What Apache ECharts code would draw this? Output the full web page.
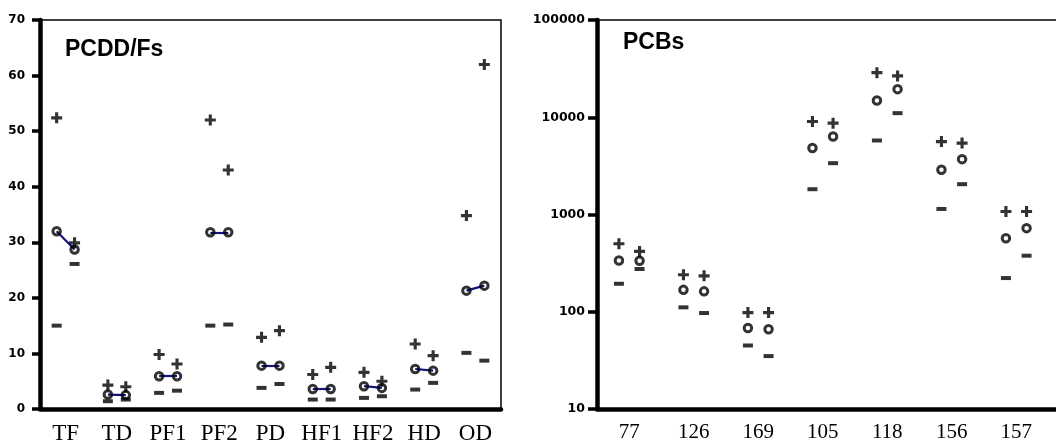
<!DOCTYPE html>
<html>
<head>
<meta charset="utf-8">
<script src="https://cdn.jsdelivr.net/npm/echarts@6/dist/echarts.min.js"></script>
<style>
    html, body { margin: 0; padding: 0; background: #fff; }
    #chart { width: 1056px; height: 445px; }
</style>
</head>
<body>
<div id="chart"></div>
<script>
    // PCDD/Fs panel (linear axis)
    var dfCategories = ['TF', 'TD', 'PF1', 'PF2', 'PD', 'HF1', 'HF2', 'HD', 'OD'];
    var dfMean1 = [32.0, 2.6, 5.9, 31.8, 7.8, 3.6, 4.1, 7.2, 21.3];
    var dfMean2 = [28.7, 2.5, 5.9, 31.8, 7.8, 3.6, 3.8, 6.9, 22.2];
    var dfUpper1 = [52.4, 4.3, 9.8, 52.0, 12.9, 6.2, 6.6, 11.7, 34.8];
    var dfUpper2 = [29.9, 4.0, 8.1, 43.0, 14.1, 7.5, 5.0, 9.6, 62.0];
    var dfLower1 = [15.0, 1.4, 2.9, 15.0, 3.8, 1.7, 2.0, 3.5, 10.1];
    var dfLower2 = [26.1, 1.7, 3.3, 15.2, 4.5, 1.7, 2.3, 4.7, 8.7];
    var dfTicks = [0, 10, 20, 30, 40, 50, 60, 70];

    // PCBs panel (log axis)
    var pcbCategories = ['77', '126', '169', '105', '118', '156', '157'];
    var pcbMean1 = [337, 168, 68, 4820, 14860, 2880, 571];
    var pcbMean2 = [335, 162, 66, 6340, 19450, 3710, 724];
    var pcbUpper1 = [500, 240, 98, 9040, 28760, 5620, 1074];
    var pcbUpper2 = [417, 234, 98, 8690, 26600, 5420, 1074];
    var pcbLower1 = [194, 111, 45, 1820, 5770, 1140, 222];
    var pcbLower2 = [275, 97, 35, 3370, 11020, 2050, 377];
    var pcbTicks = [10, 100, 1000, 10000, 100000];

    var PLUS = 'path://M4,0h3.2v4h4v3.2h-4v4h-3.2v-4h-4v-3.2h4z';
    var dfShift = 0.175;
    var pcbShift = 0.16;

    function pts(values, shift) {
        return values.map(function (v, i) {
            return [i + 0.5 + shift, v];
        });
    }

    function markerSeries(xIdx, yIdx, mean1, mean2, upper1, upper2, lower1, lower2, d) {
        var plus = {
            type: 'scatter', xAxisIndex: xIdx, yAxisIndex: yIdx,
            symbol: PLUS, symbolSize: 11, z: 4,
            itemStyle: { color: '#000' }
        };
        var minus = {
            type: 'scatter', xAxisIndex: xIdx, yAxisIndex: yIdx,
            symbol: 'rect', symbolSize: [10, 4], z: 4,
            itemStyle: { color: '#000' }
        };
        var circ = {
            type: 'scatter', xAxisIndex: xIdx, yAxisIndex: yIdx,
            symbol: 'circle', symbolSize: 7.5, z: 5,
            itemStyle: { color: 'rgba(0,0,0,0)', borderColor: '#000', borderWidth: 3 }
        };
        return [
            Object.assign({}, plus, { data: pts(upper1, -d) }),
            Object.assign({}, plus, { data: pts(upper2, d) }),
            Object.assign({}, minus, { data: pts(lower1, -d) }),
            Object.assign({}, minus, { data: pts(lower2, d) }),
            Object.assign({}, circ, { data: pts(mean1, -d) }),
            Object.assign({}, circ, { data: pts(mean2, d) })
        ];
    }

    var myChart = echarts.init(document.getElementById('chart'));

    var catAxis = function (gridIndex, data, fontSize) {
        return {
            gridIndex: gridIndex,
            type: 'category',
            data: data,
            boundaryGap: true,
            axisLine: { lineStyle: { color: '#000', width: 4.5 } },
            axisTick: { show: false },
            axisLabel: {
                color: '#000', fontFamily: 'Liberation Serif', fontSize: fontSize,
                margin: 13, interval: 0
            },
            splitLine: { show: false }
        };
    };

    var series = [];

    // blue connecting segments between the two means of each PCDD/F congener
    series.push({
        type: 'lines',
        coordinateSystem: 'cartesian2d',
        xAxisIndex: 1,
        yAxisIndex: 0,
        z: 3,
        lineStyle: { color: '#14147f', width: 2.2, opacity: 1 },
        data: dfCategories.map(function (c, i) {
            return { coords: [[i + 0.5 - dfShift, dfMean1[i]], [i + 0.5 + dfShift, dfMean2[i]]] };
        })
    });

    series = series.concat(markerSeries(1, 0, dfMean1, dfMean2, dfUpper1, dfUpper2, dfLower1, dfLower2, dfShift));
    series = series.concat(markerSeries(3, 1, pcbMean1, pcbMean2, pcbUpper1, pcbUpper2, pcbLower1, pcbLower2, pcbShift));

    var option = {
        animation: false,
        backgroundColor: '#fff',
        title: [
            {
                text: 'PCDD/Fs', left: 65, top: 38, padding: 0,
                textStyle: { fontFamily: 'Liberation Sans', fontWeight: 'bold', fontSize: 23, color: '#000' }
            },
            {
                text: 'PCBs', left: 623, top: 31, padding: 0,
                textStyle: { fontFamily: 'Liberation Sans', fontWeight: 'bold', fontSize: 23, color: '#000' }
            }
        ],
        grid: [
            {
                left: 40, top: 20, width: 461, height: 389, outerBoundsMode: 'none',
                show: true, borderColor: '#000', borderWidth: 1.5
            },
            // the plot runs past the right edge of the picture, one empty slot is cut off
            {
                left: 597, top: 20, width: 64.5 * (pcbCategories.length + 1), height: 389, outerBoundsMode: 'none',
                show: true, borderColor: '#000', borderWidth: 1.5
            }
        ],
        xAxis: [
            catAxis(0, dfCategories, 23),
            { gridIndex: 0, type: 'value', min: 0, max: dfCategories.length, show: false },
            catAxis(1, pcbCategories.concat(['']), 21),
            { gridIndex: 1, type: 'value', min: 0, max: pcbCategories.length + 1, show: false }
        ],
        yAxis: [
            {
                gridIndex: 0,
                type: 'value',
                min: dfTicks[0],
                max: dfTicks[dfTicks.length - 1],
                interval: 10,
                axisLine: { show: true, lineStyle: { color: '#000', width: 4.5 } },
                axisTick: { show: true, length: 8, lineStyle: { color: '#000', width: 3.5 } },
                axisLabel: { color: '#000', fontFamily: 'DejaVu Sans', fontWeight: 'bold', fontSize: 12, margin: 15 },
                splitLine: { show: false }
            },
            {
                gridIndex: 1,
                type: 'log',
                logBase: 10,
                min: pcbTicks[0],
                max: pcbTicks[pcbTicks.length - 1],
                axisLine: { show: true, lineStyle: { color: '#000', width: 4.5 } },
                axisTick: { show: true, length: 9, lineStyle: { color: '#000', width: 3.5 } },
                axisLabel: {
                    color: '#000', fontFamily: 'DejaVu Sans', fontWeight: 'bold', fontSize: 12.5, margin: 12,
                    formatter: function (v) { return String(Math.round(v)); }
                },
                minorTick: { show: false },
                splitLine: { show: false }
            }
        ],
        series: series
    };

    myChart.setOption(option);
</script>
</body>
</html>
